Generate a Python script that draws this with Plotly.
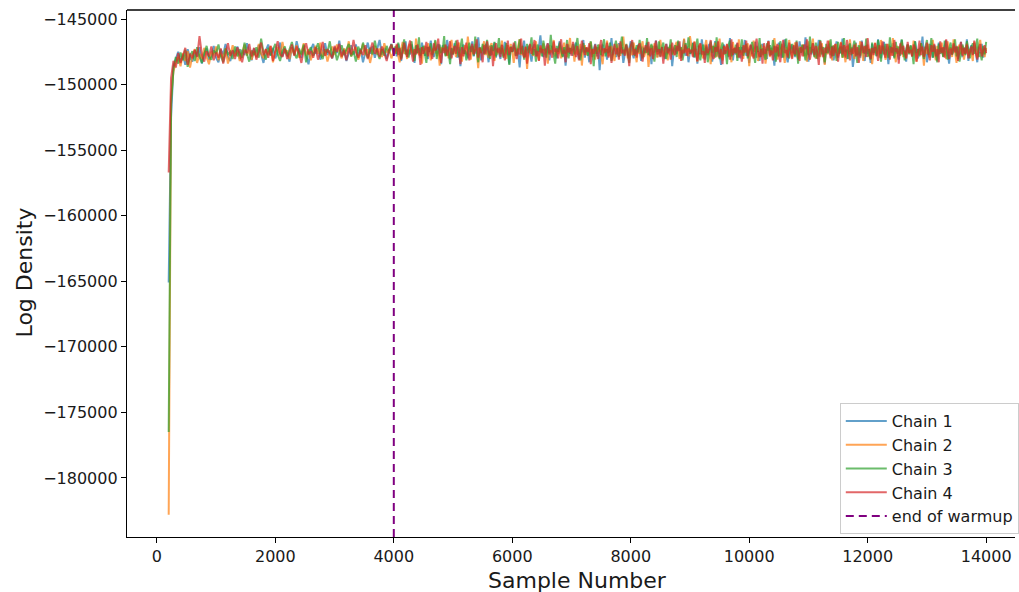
import plotly.graph_objects as go

# ---------------- data (read / estimated from the reference) ----------------
warmup_end = 4000
warm_samples = [200] + list(range(240, 4001, 40))        # thinned warmup draws
post_samples = list(range(4025, 14001, 25))               # thinned sampling draws

chain_names = ["Chain 1", "Chain 2", "Chain 3", "Chain 4"]

chain1_warm = [
    -165100, -152500, -148600, -148100, -147500, -148300, -147700, -148500, -147300, -147950,
    -148250, -147400, -147850, -147150, -148400, -147600, -147250, -148100, -147800, -147050,
    -147950, -148300, -147350, -147700, -146900, -147850, -148200, -147450, -147600, -147100,
    -148050, -147350, -147750, -146850, -147550, -148150, -147250, -147900, -147000, -147650,
    -148350, -147400, -146950, -147750, -147200, -148000, -147500, -146800, -147850, -147300,
    -147600, -148250, -147150, -147700, -146700, -147450, -147950, -147050, -147800, -148450,
    -147350, -146900, -147650, -147250, -148100, -147500, -146850, -147750, -147400, -148000,
    -147150, -147600, -146650, -147900, -147300, -148200, -147550, -147000, -147700, -146950,
    -147850, -147250, -148300, -147450, -146800, -147650, -147100, -147950, -147350, -146600,
    -147750, -147200, -148050, -147500, -146900, -147700]
chain2_warm = [
    -182800, -151000, -149000, -148300, -147900, -148600, -147600, -148200, -147450, -148700,
    -147800, -147300, -148350, -147650, -148050, -147200, -147900, -148450, -147500, -147750,
    -147100, -148150, -147600, -147950, -147250, -148400, -147700, -147000, -147850, -147400,
    -148200, -147550, -146950, -147800, -147350, -148100, -147450, -147900, -146900, -147650,
    -148000, -147300, -147750, -147050, -148300, -147500, -147150, -147850, -146750, -147600,
    -147400, -148050, -147200, -147700, -147000, -147950, -147550, -146850, -147800, -147300,
    -148150, -147450, -147050, -147650, -146800, -147900, -147350, -148250, -147550, -147100,
    -147750, -146950, -147500, -148000, -147250, -147650, -146700, -147850, -147400, -147150,
    -148100, -147600, -146900, -147750, -147300, -148350, -147500, -147050, -147700, -147250,
    -147900, -146850, -147550, -147350, -148000, -147450]
chain3_warm = [
    -176500, -151500, -148800, -147900, -148400, -147550, -148150, -147350, -148650, -147800,
    -147450, -148200, -147150, -147900, -148350, -147600, -147050, -147850, -148100, -147400,
    -147650, -146950, -147800, -148300, -147250, -147700, -147500, -148050, -147100, -147850,
    -147300, -147950, -146800, -147650, -148250, -147400, -147750, -147150, -147950, -146500,
    -147550, -148100, -147200, -147800, -147350, -146900, -147700, -148200, -147450, -147100,
    -147850, -147300, -146750, -147600, -148000, -147250, -147700, -146950, -148300, -147500,
    -147150, -147800, -147400, -146850, -147650, -148050, -147300, -147550, -146700, -147900,
    -147250, -148150, -147600, -147000, -147750, -147350, -146900, -147850, -147450, -148250,
    -147100, -147650, -146800, -147500, -147950, -147200, -147700, -146650, -147550, -148050,
    -147300, -147800, -147050, -147600, -146950, -147500]
chain4_warm = [
    -156700, -149500, -148200, -148700, -147600, -148350, -147800, -147200, -148500, -147650,
    -148000, -147350, -147900, -146300, -147700, -148250, -147450, -147850, -147100, -148150,
    -147550, -147950, -147250, -148400, -147650, -146850, -147800, -147400, -148050, -147150,
    -147700, -148300, -147350, -147600, -146900, -147850, -147200, -148100, -147500, -146800,
    -147750, -147300, -147950, -147050, -148200, -147450, -146700, -147650, -147900, -147250,
    -148050, -147550, -146950, -147800, -147100, -147600, -148350, -147350, -146850, -147700,
    -147450, -147950, -147150, -148100, -147550, -146750, -147800, -147300, -147650, -148000,
    -147050, -147500, -146900, -147850, -147400, -148150, -147200, -147700, -146600, -147550,
    -147950, -147350, -147750, -147000, -148050, -147450, -146800, -147650, -147250, -147900,
    -147100, -147600, -148200, -147350, -146950, -147700]

chain1_post = [
    -147300, -147850, -146900, -147600, -148200, -147150, -147450, -146700, -147900, -147350,
    -147700, -146950, -147500, -148350, -147050, -147600, -147250, -147950, -146800, -147400,
    -147800, -147100, -148050, -147300, -146650, -147550, -147900, -147200, -147650, -146900,
    -147450, -148450, -147000, -147350, -147750, -146600, -147500, -148100, -147250, -147700,
    -146850, -147400, -147950, -147150, -148600, -147300, -146950, -147650, -147500, -148000,
    -147100, -147550, -146700, -147850, -147300, -147650, -146400, -147450, -148150, -147200,
    -147600, -146900, -147350, -148300, -147050, -147750, -147400, -146800, -147950, -147250,
    -147550, -148050, -147000, -147400, -146750, -147700, -147250, -148400, -147150, -147500,
    -146950, -147800, -147350, -147600, -148700, -147200, -147450, -146650, -147900, -147350,
    -147050, -147650, -148250, -147300, -146900, -147550, -147800, -147100, -146250, -147450,
    -147900, -147250, -147600, -146850, -148150, -147400, -147050, -147700, -147300, -148000,
    -147150, -146700, -147500, -147850, -147250, -148550, -147350, -146950, -147650, -147400,
    -147800, -147100, -146800, -147600, -148050, -147300, -147550, -146600, -147950, -147200,
    -147450, -148300, -147000, -147700, -147350, -146900, -147850, -147150, -148900, -147400,
    -146950, -147600, -147300, -148100, -147050, -147500, -146450, -147750, -147250, -147900,
    -147350, -146850, -147650, -147150, -148350, -147450, -147000, -147800, -147300, -146700,
    -147550, -148000, -147200, -147650, -146950, -147400, -148200, -147100, -147600, -147350,
    -146800, -147750, -147300, -148450, -147050, -147550, -146650, -147900, -147250, -147600,
    -147150, -147450, -148050, -146900, -147700, -147350, -147000, -148600, -147500, -147200,
    -147650, -146750, -147400, -147950, -147250, -146550, -147800, -147100, -148300, -147450,
    -147600, -146800, -147950, -147250, -148400, -147050, -147700, -146550, -147450, -148100,
    -147200, -147750, -146900, -147550, -148250, -147350, -146700, -147850, -147100, -147650,
    -148500, -147300, -146950, -147600, -147050, -147900, -146450, -147500, -148150, -147250,
    -147700, -146850, -147400, -148000, -147150, -147550, -146600, -147800, -147350, -148350,
    -147000, -147650, -147250, -146750, -147950, -147450, -148200, -147100, -146900, -147600,
    -147300, -148050, -146650, -147750, -147200, -147500, -148550, -147050, -147850, -146800,
    -147400, -147950, -147150, -146550, -147700, -148300, -147350, -146950, -147600, -147050,
    -147900, -147250, -148100, -146700, -147550, -147000, -147800, -146400, -147450, -148250,
    -147150, -147700, -146850, -147500, -148000, -147300, -146600, -147850, -147100, -147650,
    -148400, -147250, -147550, -146900, -147750, -147050, -148150, -147400, -146700, -147950,
    -147200, -147600, -146500, -147850, -147350, -148050, -146950, -147500, -147150, -148650,
    -147450, -146800, -147700, -147250, -147950, -146650, -147550, -148200, -147000, -147650,
    -147300, -148350, -146900, -147600, -147100, -147800, -146550, -147400, -148000, -147200,
    -146750, -147750, -147350, -148450, -147050, -147600, -146850, -147900, -147250, -147500,
    -148100, -147150, -146600, -147700, -147400, -148250, -146950, -147550, -147050, -147850,
    -147300, -146700, -147650, -148000, -147200, -147450, -146350, -147800, -147100, -148300,
    -147550, -146900, -147350, -147950, -147000, -147700, -148150, -146800, -147500, -147250,
    -147850, -147050, -146650, -147600, -148400, -147300, -147750, -146950, -147450, -147150,
    -148050, -147400, -146750, -147900, -147200, -147650, -146550, -148200, -147350, -147000,
    -147700, -146850, -147500, -148300, -147100, -147600, -146900, -147950, -147250, -147450]
chain2_post = [
    -147550, -147000, -147800, -148300, -147250, -146750, -147650, -147400, -148050, -147150,
    -146900, -147600, -147350, -147950, -146500, -147450, -147750, -147200, -148400, -147300,
    -147050, -147700, -146850, -147500, -148150, -147250, -147600, -146700, -147850, -147400,
    -148550, -147150, -147450, -146950, -147800, -147350, -148000, -147050, -146600, -147650,
    -147300, -147900, -147150, -146800, -147550, -148250, -147400, -147000, -147700, -146350,
    -147450, -148100, -147250, -147650, -146900, -147500, -148750, -147200, -147600, -147050,
    -146700, -147750, -147400, -147950, -147100, -146850, -147550, -148200, -147300, -147700,
    -147150, -147500, -146650, -147850, -147350, -148050, -147000, -147600, -146900, -147450,
    -148350, -147200, -147650, -147050, -146550, -147750, -147400, -147900, -147150, -148800,
    -147350, -146950, -147550, -147800, -147250, -146700, -147600, -148150, -147100, -147500,
    -146850, -147700, -147300, -148400, -147000, -147550, -147250, -146600, -147850, -147400,
    -147650, -147100, -148000, -147350, -146800, -147500, -147900, -147200, -146450, -147600,
    -147300, -148250, -147050, -147700, -147450, -146900, -148550, -147350, -147000, -147750,
    -147200, -147600, -146750, -147900, -147300, -148100, -147150, -147500, -146950, -147700,
    -148450, -147250, -147550, -146650, -147850, -147400, -147050, -147650, -148200, -147300,
    -146900, -147500, -147800, -147100, -146350, -147600, -147350, -148000, -147200, -147450,
    -147750, -146800, -147400, -148300, -147050, -147650, -147250, -146700, -147900, -147500,
    -147150, -148650, -147350, -147000, -147700, -146850, -147550, -147950, -147300, -146600,
    -147450, -147850, -147100, -147600, -148150, -147250, -146950, -147500, -147750, -147050,
    -146750, -147400, -148050, -147200, -147650, -146500, -147550, -147300, -147850, -146300,
    -147050, -147800, -146700, -147500, -148250, -147300, -146900, -147650, -148000, -147150,
    -146600, -147750, -147400, -148450, -147050, -147550, -146800, -147900, -147250, -146500,
    -147650, -148150, -147100, -147450, -146950, -147800, -147350, -148300, -146750, -147600,
    -147200, -147950, -146550, -147700, -147400, -148050, -147000, -147550, -146850, -148600,
    -147300, -147850, -146650, -147500, -147150, -148200, -147600, -146950, -147750, -147050,
    -148400, -147350, -146700, -147900, -147250, -147650, -146450, -147450, -148100, -147000,
    -147700, -146900, -147550, -148350, -147150, -147800, -146600, -147400, -147950, -147250,
    -146800, -147650, -148050, -147100, -147500, -146950, -147850, -147300, -148250, -146700,
    -147600, -147200, -146500, -147750, -148000, -147350, -147050, -147900, -146850, -147550,
    -148500, -147150, -147700, -146650, -147450, -148150, -147000, -147600, -146900, -147800,
    -147300, -146750, -147950, -147400, -148300, -147050, -147650, -146550, -147500, -147200,
    -148050, -146850, -147750, -147350, -146700, -147600, -148200, -147100, -147450, -146950,
    -147850, -147250, -148450, -147550, -146800, -147700, -147000, -147950, -146600, -147400,
    -147150, -148100, -147650, -146900, -147350, -147800, -146450, -147550, -148300, -147050,
    -147700, -147200, -146750, -147900, -147450, -148000, -146950, -147600, -147100, -147850,
    -146650, -147500, -148250, -147300, -147750, -146850, -147400, -148550, -147150, -147650,
    -146900, -147950, -147250, -146600, -147550, -148150, -147050, -147700, -147350, -146800,
    -147850, -147450, -148050, -146700, -147600, -147150, -147900, -146550, -147500, -148350,
    -147250, -146950, -147700, -147050, -148100, -147400, -146850, -147800, -147300, -147600,
    -148200, -146750, -147450, -147950, -147100, -146600, -147650, -147350, -147900, -147200]
chain3_post = [
    -147100, -147650, -146800, -147450, -148000, -147250, -146550, -147700, -147350, -147950,
    -147200, -146700, -147550, -148200, -147000, -147600, -146400, -147800, -147300, -147050,
    -147650, -148350, -147150, -147500, -146850, -147750, -147250, -146600, -148050, -147400,
    -146950, -147600, -147350, -146300, -147850, -147100, -147550, -148450, -147200, -147700,
    -147000, -146650, -147450, -147900, -147150, -146500, -147650, -147350, -148150, -147250,
    -146800, -147500, -147050, -147800, -146350, -147400, -148300, -147150, -147600, -146900,
    -147700, -147250, -146600, -147550, -148050, -147000, -147450, -146750, -147850, -147300,
    -146450, -147650, -147200, -147950, -147400, -146850, -147600, -148500, -147100, -147500,
    -147250, -146700, -147800, -147350, -146550, -147650, -147050, -148100, -147450, -146900,
    -147600, -147150, -146400, -147750, -147300, -148250, -146950, -147500, -147200, -147850,
    -146650, -147400, -147950, -147100, -147600, -146200, -147350, -147750, -148400, -147050,
    -147500, -146800, -147300, -147900, -147150, -147650, -146600, -148000, -147250, -147450,
    -146900, -147700, -147050, -146450, -147600, -148150, -147300, -146850, -147550, -147200,
    -147800, -147350, -146700, -147500, -148600, -147100, -147650, -146950, -147400, -147750,
    -147050, -146550, -147850, -147300, -147600, -146800, -148200, -147450, -147150, -146650,
    -147550, -147900, -147200, -146350, -147700, -147400, -146900, -147650, -148350, -147100,
    -146750, -147450, -147800, -147000, -147550, -146600, -147350, -148000, -147200, -147600,
    -146450, -147750, -147300, -146900, -147650, -148250, -147050, -147500, -146700, -147850,
    -147250, -146800, -147600, -148050, -147150, -147450, -146550, -147700, -147350, -147000,
    -147900, -146650, -147400, -147150, -148150, -147550, -146850, -147300, -146400, -147650,
    -147500, -146850, -147900, -147200, -146500, -147650, -148150, -147350, -146950, -147750,
    -147100, -148300, -147450, -146700, -147600, -147050, -147950, -146400, -147550, -148050,
    -147250, -146800, -147700, -147400, -148450, -147000, -146650, -147850, -147300, -147600,
    -146950, -148200, -147150, -147550, -146550, -147800, -147350, -146900, -148000, -147450,
    -147200, -146750, -147650, -148350, -147050, -147500, -146450, -147900, -147250, -147700,
    -148100, -146850, -147400, -147000, -147750, -146600, -147550, -148250, -147150, -147850,
    -146700, -147350, -147950, -147100, -146500, -147650, -148000, -147300, -146900, -147500,
    -147800, -146650, -148400, -147200, -147600, -146950, -147450, -148150, -147050, -147750,
    -146350, -147550, -147300, -147900, -146800, -148050, -147400, -146600, -147700, -147150,
    -148300, -146900, -147600, -147250, -146550, -147850, -147050, -147450, -148200, -146750,
    -147650, -147100, -147950, -146450, -147500, -147350, -148050, -146850, -147750, -147200,
    -146650, -147550, -148350, -147000, -147800, -146950, -147400, -147650, -146500, -147900,
    -147300, -148100, -146800, -147600, -147150, -147850, -146600, -147450, -148250, -147050,
    -147700, -146900, -147350, -147950, -146400, -147550, -147200, -148000, -146750, -147650,
    -147100, -147800, -146550, -147400, -148150, -147250, -146950, -147700, -147000, -147500,
    -148450, -146700, -147600, -147300, -147850, -146850, -147450, -148050, -147150, -146600,
    -147750, -147350, -146450, -147950, -147050, -147550, -148300, -146900, -147650, -147200,
    -147900, -146650, -147500, -148100, -147250, -146800, -147700, -147400, -146550, -147850,
    -147100, -148250, -147600, -146950, -147350, -147750, -146700, -147450, -148000, -147150,
    -146850, -147650, -147300, -146500, -147900, -147550, -148150, -147050, -147700, -146750]
chain4_post = [
    -147450, -146900, -147750, -147200, -148100, -147550, -146800, -147350, -147900, -147050,
    -146650, -147600, -148250, -147300, -147700, -146950, -147450, -148500, -147150, -147650,
    -147350, -146750, -147850, -147100, -147550, -148050, -146850, -147400, -147250, -146500,
    -147700, -148350, -147200, -147600, -146950, -147800, -147350, -146700, -148000, -147450,
    -147050, -147650, -146600, -147500, -148450, -147150, -147850, -147300, -146800, -147600,
    -148150, -147250, -146900, -147700, -147400, -146550, -147950, -147200, -147550, -148300,
    -147000, -147650, -146700, -147450, -147800, -147100, -148600, -147350, -146850, -147550,
    -147250, -147900, -146950, -147600, -148150, -147300, -146650, -147750, -147150, -147500,
    -146800, -147400, -148050, -147250, -147700, -146500, -147550, -147950, -147100, -148400,
    -147350, -146900, -147650, -147200, -146600, -147850, -147450, -148200, -147000, -147600,
    -147300, -148550, -147150, -146850, -147700, -147400, -147950, -146700, -147500, -147250,
    -148000, -147100, -146550, -147650, -147350, -148300, -146900, -147550, -147200, -147800,
    -146750, -147450, -147900, -147050, -148150, -147600, -146650, -147350, -147750, -147150,
    -147500, -146850, -148450, -147300, -147650, -146950, -147400, -148050, -147200, -146600,
    -147850, -147250, -147550, -146800, -147950, -147100, -148350, -147450, -146900, -147700,
    -147200, -148100, -146700, -147600, -147350, -147800, -146950, -147500, -148600, -147050,
    -146600, -147750, -147300, -147950, -147150, -146850, -147650, -148250, -147400, -147000,
    -147550, -146750, -147850, -147200, -148050, -147450, -146650, -147700, -147300, -147900,
    -147150, -148400, -147350, -146900, -147600, -147250, -148100, -146800, -147500, -147750,
    -147050, -147450, -146700, -148200, -147350, -147600, -146950, -147800, -147250, -147500,
    -147350, -147900, -146750, -147550, -148200, -147100, -146850, -147700, -147450, -148350,
    -146950, -147600, -147250, -146600, -147800, -148050, -147150, -147500, -146700, -147950,
    -147300, -148450, -147050, -147650, -146900, -147400, -148100, -146550, -147750, -147200,
    -147600, -146800, -147950, -147350, -148250, -147000, -147550, -146650, -147850, -147250,
    -146950, -147700, -148000, -147150, -146500, -147500, -147900, -147300, -148400, -146850,
    -147650, -147100, -146700, -147800, -147400, -148150, -147050, -147550, -146900, -147750,
    -148300, -147200, -146600, -147600, -147350, -147950, -146800, -147450, -148050, -147000,
    -147700, -146750, -147500, -148200, -147150, -147850, -146950, -147300, -146550, -147650,
    -148100, -147400, -146850, -147750, -147050, -147550, -148500, -146700, -147350, -147900,
    -147200, -147600, -146650, -147450, -148000, -147100, -147800, -146900, -147550, -148250,
    -147300, -146800, -147700, -147000, -147950, -146600, -147400, -148150, -147250, -147650,
    -146950, -147850, -147150, -148350, -147500, -146750, -147600, -147050, -147900, -146450,
    -147450, -148050, -147200, -147750, -146850, -147350, -148200, -147000, -147650, -146700,
    -147550, -147950, -146900, -147300, -148100, -147150, -147800, -146600, -147500, -147250,
    -148400, -146850, -147700, -147050, -147450, -148000, -146750, -147600, -147350, -147850,
    -146950, -147200, -148250, -147550, -146650, -147750, -147100, -147900, -147400, -146800,
    -147650, -148150, -147000, -147500, -146900, -147850, -147300, -148300, -146700, -147600,
    -147150, -147950, -146550, -147450, -148050, -147250, -147700, -146850, -147550, -147050,
    -148200, -147350, -146750, -147800, -147200, -147650, -146950, -148000, -147400, -147100,
    -147750, -146650, -147550, -148100, -147300, -146900, -147850, -147450, -147000, -147600]

chain_warm = [chain1_warm, chain2_warm, chain3_warm, chain4_warm]
chain_post = [chain1_post, chain2_post, chain3_post, chain4_post]

x_ticks = [0, 2000, 4000, 6000, 8000, 10000, 12000, 14000]
y_ticks = [-180000, -175000, -170000, -165000, -160000, -155000, -150000, -145000]

# ---------------- styling ----------------
colors = ["rgba(31,119,180,0.7)", "rgba(255,127,14,0.7)",
          "rgba(44,160,44,0.7)", "rgba(214,39,40,0.7)"]
FONT = "DejaVu Sans"
W, H = 1019, 592
L, T, B = 127, 10, 55

fig = go.Figure()
for name, col, w, p in zip(chain_names, colors, chain_warm, chain_post):
    xs = warm_samples[:len(w)] + post_samples[:len(p)]
    ys = list(w[:len(warm_samples)]) + list(p[:len(post_samples)])
    fig.add_trace(go.Scatter(x=xs, y=ys, mode="lines", name=name,
                             line=dict(color=col, width=2.0)))

# legend entry for the warmup line
fig.add_trace(go.Scatter(x=[None], y=[None], mode="lines", name="end of warmup",
                         line=dict(color="purple", width=2, dash="8px,5px")))
fig.add_shape(type="line", xref="x", yref="paper", x0=warmup_end, x1=warmup_end,
              y0=0, y1=1, line=dict(color="purple", width=2, dash="8px,5px"))
# top spine (right spine falls outside the cropped picture)
fig.add_shape(type="line", xref="paper", yref="paper", x0=0, x1=1, y0=1, y1=1,
              line=dict(color="black", width=1.3))

plot_w = W - L
plot_h = H - T - B

fig.update_layout(
    width=W, height=H,
    margin=dict(l=L, r=0, t=T, b=B, pad=0),
    paper_bgcolor="white", plot_bgcolor="white",
    font=dict(family=FONT, size=16, color="#1a1a1a"),
    showlegend=True,
    legend=dict(x=(843 - L) / plot_w, y=1 - (403 - T) / plot_h,
                xanchor="left", yanchor="top",
                bgcolor="rgba(255,255,255,0.85)", bordercolor="#cccccc", borderwidth=1,
                font=dict(family=FONT, size=16, color="#1a1a1a"),
                itemwidth=41, tracegroupgap=0),
    xaxis=dict(range=[-504, 14487], tickmode="array", tickvals=x_ticks,
               ticktext=[str(v) for v in x_ticks],
               showgrid=False, zeroline=False, showline=True, linecolor="black",
               linewidth=1.3, ticks="outside", ticklen=5, tickwidth=1.2,
               tickcolor="black", tickfont=dict(family=FONT, size=16)),
    yaxis=dict(range=[-184500, -144314], tickmode="array", tickvals=y_ticks,
               ticktext=[("\u2212" + str(abs(v))) for v in y_ticks],
               showgrid=False, zeroline=False, showline=True, linecolor="black",
               linewidth=1.3, ticks="outside", ticklen=5, tickwidth=1.2,
               tickcolor="black", tickfont=dict(family=FONT, size=16)),
)

fig.add_annotation(text="Sample Number", xref="paper", yref="paper",
                   x=(580 - L) / plot_w, y=(H - B - 580) / plot_h,
                   xanchor="center", yanchor="middle", showarrow=False,
                   font=dict(family=FONT, size=22, color="#1a1a1a"))
fig.add_annotation(text="Log Density", xref="paper", yref="paper",
                   x=(24 - L) / plot_w, y=(H - B - 272) / plot_h,
                   xanchor="center", yanchor="middle", showarrow=False, textangle=-90,
                   font=dict(family=FONT, size=22, color="#1a1a1a"))

fig.write_html("out.html")
